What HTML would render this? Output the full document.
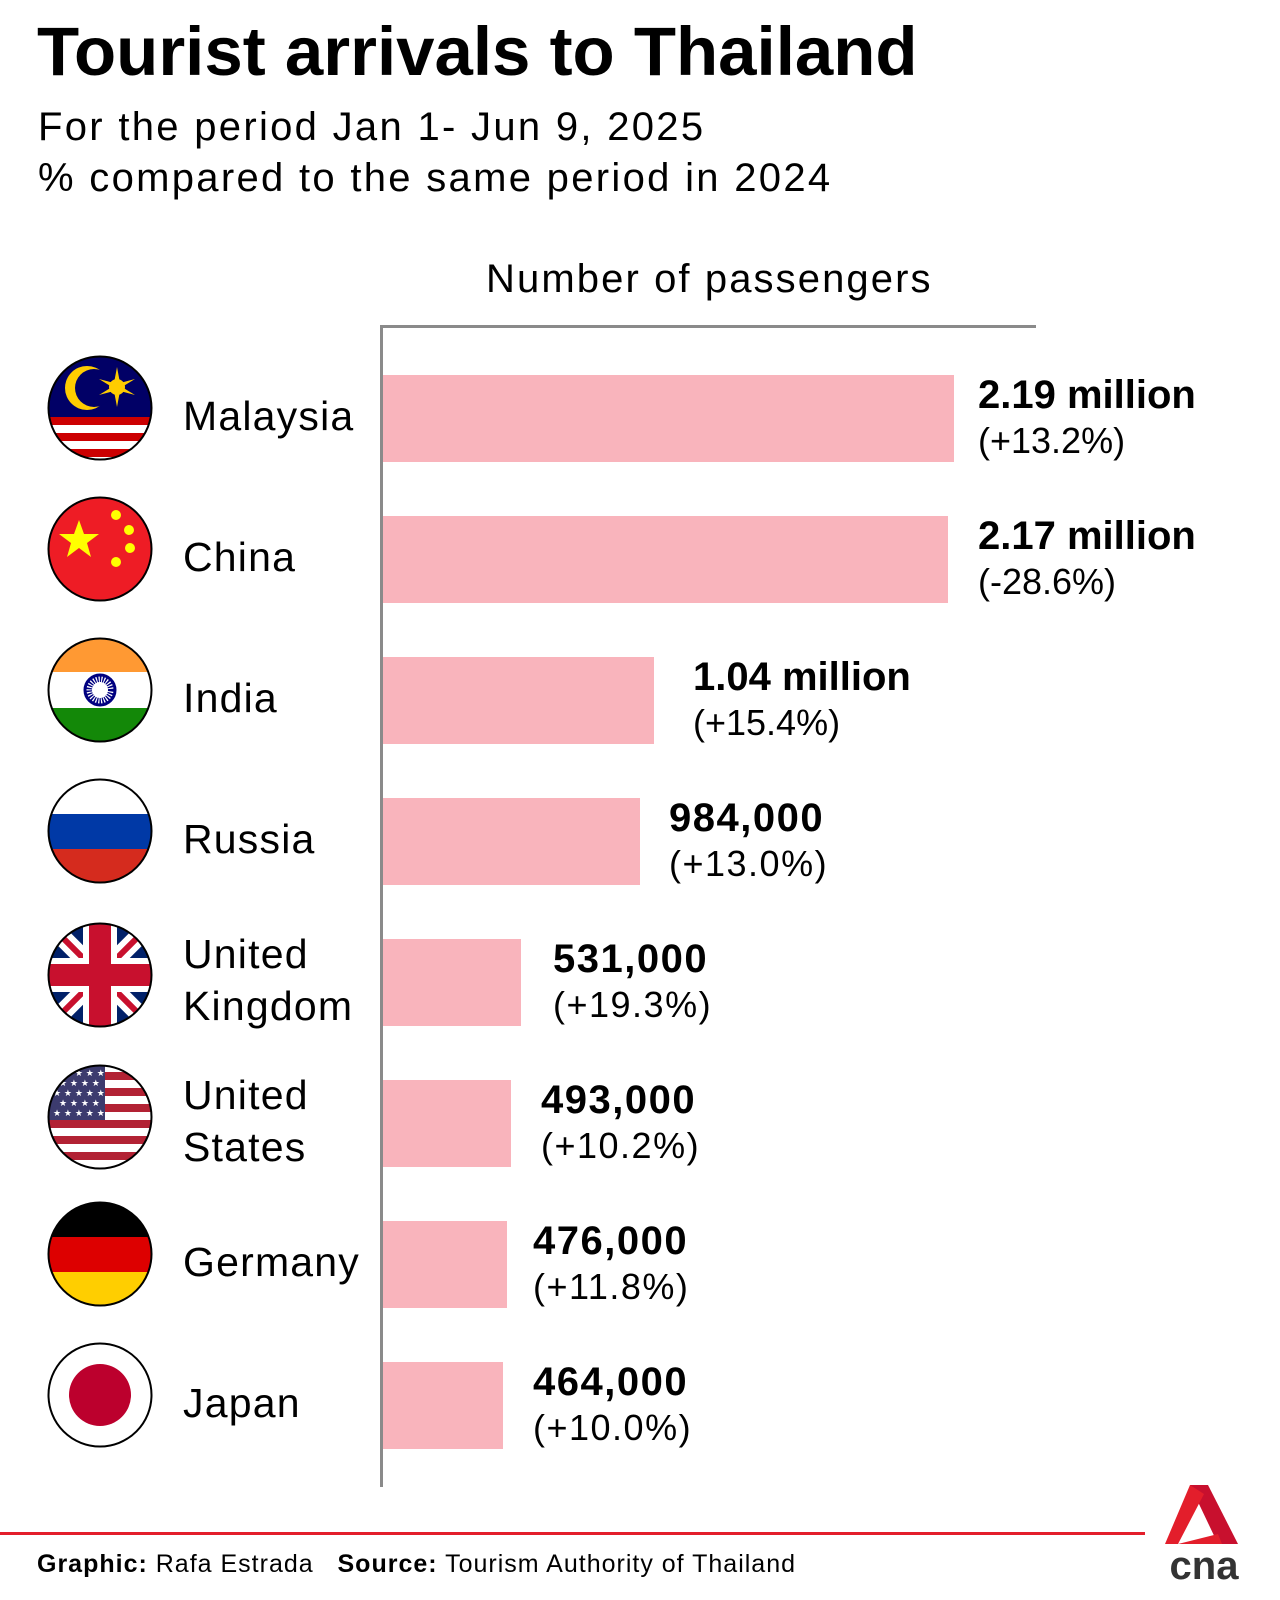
<!DOCTYPE html>
<html><head><meta charset="utf-8"><style>
body{margin:0;width:1280px;height:1600px;background:#fff;position:relative;overflow:hidden;font-family:"Liberation Sans",sans-serif;color:#000}
.a{position:absolute;white-space:nowrap}
.t{left:37px;top:12px;font-size:69px;font-weight:bold;letter-spacing:0px}
.s{left:38px;font-size:40px;letter-spacing:2.3px}
.bar{position:absolute;left:383px;height:87px;background:#f9b4bc}
.lab{position:absolute;left:183px;font-size:41px;letter-spacing:1.2px;line-height:52px}
.v{position:absolute;line-height:46px}
.v b{display:block;font-size:40px}
.v span{display:block;font-size:36px}
.w{letter-spacing:1.5px}
.flag{position:absolute;left:47px;width:106px;height:106px}
</style></head><body>
<div class="a t">Tourist arrivals to Thailand</div>
<div class="a s" style="top:105px">For the period Jan 1- Jun 9, 2025</div>
<div class="a s" style="top:156px">% compared to the same period in 2024</div>
<div class="a" style="left:486px;top:257px;font-size:40px;letter-spacing:2.1px">Number of passengers</div>
<div class="a" style="left:380px;top:325px;width:656px;height:3px;background:#8a8a8a"></div>
<div class="a" style="left:380px;top:325px;width:3px;height:1162px;background:#8a8a8a"></div>

<div class="bar" style="top:375px;width:571px"></div>
<div class="bar" style="top:516px;width:565px"></div>
<div class="bar" style="top:657px;width:271px"></div>
<div class="bar" style="top:798px;width:257px"></div>
<div class="bar" style="top:939px;width:138px"></div>
<div class="bar" style="top:1080px;width:128px"></div>
<div class="bar" style="top:1221px;width:124px"></div>
<div class="bar" style="top:1362px;width:120px"></div>

<div class="v" style="left:978px;top:372px"><b>2.19 million</b><span>(+13.2%)</span></div>
<div class="v" style="left:978px;top:513px"><b>2.17 million</b><span>(-28.6%)</span></div>
<div class="v" style="left:693px;top:654px"><b>1.04 million</b><span>(+15.4%)</span></div>
<div class="v w" style="left:669px;top:795px"><b>984,000</b><span>(+13.0%)</span></div>
<div class="v w" style="left:553px;top:936px"><b>531,000</b><span>(+19.3%)</span></div>
<div class="v w" style="left:541px;top:1077px"><b>493,000</b><span>(+10.2%)</span></div>
<div class="v w" style="left:533px;top:1218px"><b>476,000</b><span>(+11.8%)</span></div>
<div class="v w" style="left:533px;top:1359px"><b>464,000</b><span>(+10.0%)</span></div>

<div class="lab" style="top:390px">Malaysia</div>
<div class="lab" style="top:531px">China</div>
<div class="lab" style="top:672px">India</div>
<div class="lab" style="top:813px">Russia</div>
<div class="lab" style="top:928px">United<br>Kingdom</div>
<div class="lab" style="top:1069px">United<br>States</div>
<div class="lab" style="top:1236px">Germany</div>
<div class="lab" style="top:1377px">Japan</div>

<svg class="flag" style="top:355px" viewBox="0 0 106 106"><defs><clipPath id="c"><circle cx="53" cy="53" r="51"/></clipPath></defs>
<g clip-path="url(#c)"><rect width="106" height="106" fill="#fff"/><rect width="106" height="62" fill="#010066"/>
<rect y="62" width="106" height="8" fill="#cc0001"/><rect y="78" width="106" height="8" fill="#cc0001"/><rect y="94" width="106" height="8" fill="#cc0001"/>
<circle cx="40" cy="33" r="22" fill="#fc0"/><circle cx="47" cy="33" r="19" fill="#010066"/>
<circle cx="70" cy="32" r="8" fill="#fc0"/><path d="M70 12L73 28 88 24 75 32 88 40 73 36 70 52 67 36 52 40 65 32 52 24 67 28Z" fill="#fc0"/></g>
<circle cx="53" cy="53" r="51.5" fill="none" stroke="#000" stroke-width="2"/></svg>

<svg class="flag" style="top:496px" viewBox="0 0 106 106"><circle cx="53" cy="53" r="51" fill="#ee1c25"/>
<polygon points="32,24 37,38 52,38 40,47 44,61 32,52 20,61 24,47 12,38 27,38" fill="#ff0"/>
<circle cx="69" cy="19" r="5" fill="#ff0"/><circle cx="82" cy="34" r="5" fill="#ff0"/><circle cx="83" cy="52" r="5" fill="#ff0"/><circle cx="69" cy="66" r="5" fill="#ff0"/>
<circle cx="53" cy="53" r="51.5" fill="none" stroke="#000" stroke-width="2"/></svg>

<svg class="flag" style="top:637px" viewBox="0 0 106 106"><defs><clipPath id="c2"><circle cx="53" cy="53" r="51"/></clipPath></defs>
<g clip-path="url(#c2)"><rect width="106" height="106" fill="#fff"/><rect width="106" height="35" fill="#ff9933"/><rect y="71" width="106" height="35" fill="#138808"/>
<circle cx="53" cy="53" r="15" fill="none" stroke="#000080" stroke-width="3"/><circle cx="53" cy="53" r="11" fill="none" stroke="#000080" stroke-width="6" stroke-dasharray="1.5 1.2"/></g>
<circle cx="53" cy="53" r="51.5" fill="none" stroke="#000" stroke-width="2"/></svg>

<svg class="flag" style="top:778px" viewBox="0 0 106 106"><defs><clipPath id="c3"><circle cx="53" cy="53" r="51"/></clipPath></defs>
<g clip-path="url(#c3)"><rect width="106" height="36" fill="#fff"/><rect y="36" width="106" height="35" fill="#0039a6"/><rect y="71" width="106" height="35" fill="#d52b1e"/></g>
<circle cx="53" cy="53" r="51.5" fill="none" stroke="#000" stroke-width="2"/></svg>

<svg class="flag" style="top:922px" viewBox="0 0 106 106"><defs><clipPath id="c4"><circle cx="53" cy="53" r="51"/></clipPath></defs>
<g clip-path="url(#c4)"><rect width="106" height="106" fill="#012169"/>
<path d="M0 0L106 106M106 0L0 106" stroke="#fff" stroke-width="18"/><path d="M0 0L106 106M106 0L0 106" stroke="#c8102e" stroke-width="6"/>
<rect x="36" width="34" height="106" fill="#fff"/><rect y="36" width="106" height="34" fill="#fff"/>
<rect x="42" width="22" height="106" fill="#c8102e"/><rect y="42" width="106" height="22" fill="#c8102e"/></g>
<circle cx="53" cy="53" r="51.5" fill="none" stroke="#000" stroke-width="2"/></svg>

<svg class="flag" style="top:1064px" viewBox="0 0 106 106"><defs><clipPath id="c5"><circle cx="53" cy="53" r="51"/></clipPath></defs>
<g clip-path="url(#c5)"><rect width="106" height="106" fill="#fff"/>
<g fill="#b22234"><rect y="8" width="106" height="8"/><rect y="24" width="106" height="8"/><rect y="40" width="106" height="8"/><rect y="56" width="106" height="8"/><rect y="72" width="106" height="8"/><rect y="88" width="106" height="8"/></g>
<rect width="58" height="56" fill="#3c3b6e"/>
<g fill="#fff" font-size="9" font-family="DejaVu Sans"><text x="6" y="12">★ ★ ★ ★ ★</text><text x="12" y="22">★ ★ ★ ★</text><text x="6" y="32">★ ★ ★ ★ ★</text><text x="12" y="42">★ ★ ★ ★</text><text x="6" y="52">★ ★ ★ ★ ★</text></g></g>
<circle cx="53" cy="53" r="51.5" fill="none" stroke="#000" stroke-width="2"/></svg>

<svg class="flag" style="top:1201px" viewBox="0 0 106 106"><defs><clipPath id="c6"><circle cx="53" cy="53" r="51"/></clipPath></defs>
<g clip-path="url(#c6)"><rect width="106" height="36" fill="#000"/><rect y="36" width="106" height="35" fill="#dd0000"/><rect y="71" width="106" height="35" fill="#ffce00"/></g>
<circle cx="53" cy="53" r="51.5" fill="none" stroke="#000" stroke-width="2"/></svg>

<svg class="flag" style="top:1342px" viewBox="0 0 106 106"><circle cx="53" cy="53" r="51" fill="#fff"/><circle cx="53" cy="53" r="31" fill="#bc002d"/>
<circle cx="53" cy="53" r="51.5" fill="none" stroke="#000" stroke-width="2"/></svg>

<div class="a" style="left:0;top:1532px;width:1145px;height:3px;background:#e31e2b"></div>
<div class="a" style="left:37px;top:1550px;font-size:25px;letter-spacing:1px"><b>Graphic:</b> Rafa Estrada &nbsp;&nbsp;<b>Source:</b> Tourism Authority of Thailand</div>
<svg class="a" style="left:1160px;top:1482px" width="90" height="100" viewBox="0 0 90 100">
<polygon points="30,3 48,3 78,62 58,62" fill="#c8102e"/><polygon points="30,3 44,12 18,62 5,62" fill="#e31e2b"/><polygon points="18,62 58,52 62,62" fill="#e31e2b"/>
<text x="44" y="97" text-anchor="middle" font-size="40" font-weight="bold" fill="#333" font-family="Liberation Sans">cna</text></svg>
</body></html>
